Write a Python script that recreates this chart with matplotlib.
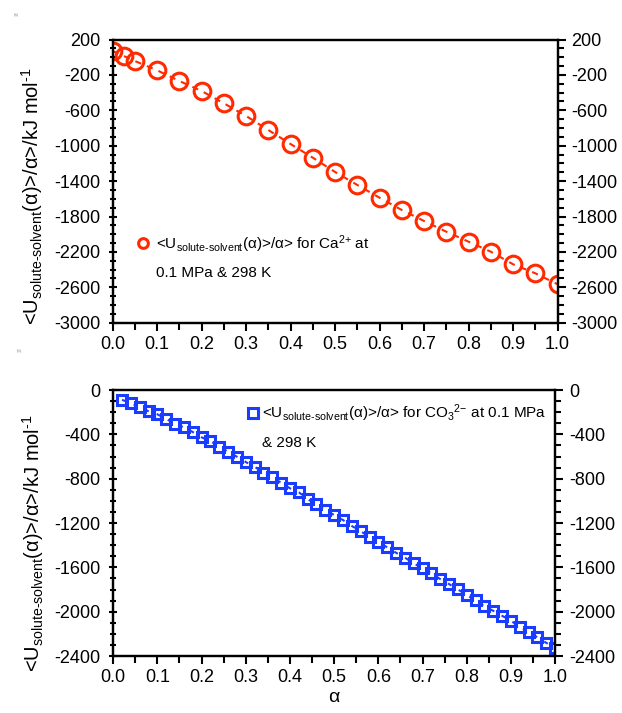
import matplotlib
matplotlib.use("Agg")
import matplotlib.pyplot as plt
from matplotlib.lines import Line2D
from matplotlib.ticker import MultipleLocator, FixedLocator

plt.rcParams["font.family"] = ["Liberation Sans", "DejaVu Sans"]
plt.rcParams["mathtext.default"] = "regular"
plt.rcParams["axes.unicode_minus"] = False

# === DATA ===
ca_alpha = [0.0, 0.025, 0.05, 0.1, 0.15, 0.2, 0.25, 0.3, 0.35, 0.4, 0.45,
            0.5, 0.55, 0.6, 0.65, 0.7, 0.75, 0.8, 0.85, 0.9, 0.95, 1.0]
ca_u = [70, 14, -43, -148, -269, -382, -521, -664, -823, -981, -1136,
        -1297, -1444, -1588, -1727, -1851, -1972, -2085, -2198, -2340, -2442, -2566]

co3_alpha = [0.02, 0.04, 0.06, 0.08, 0.10, 0.12, 0.14, 0.16, 0.18, 0.20,
             0.22, 0.24, 0.26, 0.28, 0.30, 0.32, 0.34, 0.36, 0.38, 0.40,
             0.42, 0.44, 0.46, 0.48, 0.50, 0.52, 0.54, 0.56, 0.58, 0.60,
             0.62, 0.64, 0.66, 0.68, 0.70, 0.72, 0.74, 0.76, 0.78, 0.80,
             0.82, 0.84, 0.86, 0.88, 0.90, 0.92, 0.94, 0.96, 0.98, 1.00]
co3_u = [-88, -120, -153, -192, -219, -262, -304, -337, -379, -427,
         -460, -512, -557, -602, -650, -692, -746, -788, -837, -887,
         -923, -985, -1032, -1083, -1128, -1173, -1227, -1275, -1324, -1369,
         -1420, -1468, -1512, -1564, -1609, -1654, -1706, -1751, -1799, -1850,
         -1898, -1952, -1992, -2037, -2082, -2136, -2181, -2232, -2281, -2326]

top_yticks = [200, -200, -600, -1000, -1400, -1800, -2200, -2600, -3000]
bot_yticks = [0, -400, -800, -1200, -1600, -2000, -2400]

RED = "#ff2a00"
BLUE = "#1a3cff"
YLABEL = r"<U$_{solute‐solvent}$(α)>/α>/kJ mol$^{‐1}$"


def style_axes(ax, ylim, yticks, label_y):
    ax.set_xlim(0, 1.0)
    ax.set_ylim(*ylim)
    ax.xaxis.set_major_locator(MultipleLocator(0.1))
    ax.xaxis.set_minor_locator(MultipleLocator(0.05))
    ax.yaxis.set_major_locator(FixedLocator(yticks))
    ax.yaxis.set_minor_locator(MultipleLocator(100))
    ax.xaxis.set_major_formatter(plt.FuncFormatter(lambda v, p: f"{v:.1f}"))
    for s in ax.spines.values():
        s.set_linewidth(1.6)
    ax.tick_params(axis="x", which="both", direction="out", top=False,
                   labelsize=13, width=1.5)
    ax.tick_params(axis="x", which="major", length=6)
    ax.tick_params(axis="x", which="minor", length=5)
    ax.tick_params(axis="y", which="both", direction="inout", labelsize=13,
                   width=1.5, pad=6)
    ax.tick_params(axis="y", which="major", length=6)
    ax.tick_params(axis="y", which="minor", length=5)
    ax.set_ylabel(YLABEL, fontsize=14.5)
    ax.yaxis.set_label_coords(-0.152, label_y)

    ax2 = ax.twinx()
    ax2.set_ylim(*ylim)
    ax2.yaxis.set_major_locator(FixedLocator(yticks))
    ax2.yaxis.set_minor_locator(MultipleLocator(100))
    ax2.tick_params(axis="y", which="both", direction="out", labelsize=13,
                    width=1.5, pad=4)
    ax2.tick_params(axis="y", which="major", length=6)
    ax2.tick_params(axis="y", which="minor", length=4)
    for s in ax2.spines.values():
        s.set_linewidth(1.6)
    return ax2


fig = plt.figure(figsize=(6.22, 7.13), dpi=100)
ax_top = fig.add_axes([0.181, 0.5474, 0.7155, 0.3972])
ax_bot = fig.add_axes([0.182, 0.0799, 0.7105, 0.3731])

# --- top panel: Ca2+ ---
ax_top.plot(ca_alpha, ca_u, linestyle="--", color=RED, lw=1.5,
            marker="o", ms=12, mfc="none", mec=RED, mew=2.2, dashes=(3, 3))
style_axes(ax_top, (-3000, 200), top_yticks, 0.445)
h1 = Line2D([], [], linestyle="none", marker="o", ms=7, mfc="none",
            mec=RED, mew=2.2)
ax_top.legend([h1], [r"<U$_{solute‐solvent}$(α)>/α> for Ca$^{2{+}}$ at"],
              loc="center left", bbox_to_anchor=(0.055, 0.278), frameon=False,
              borderpad=0, borderaxespad=0, handlelength=0.8,
              handletextpad=0.43, fontsize=11)
ax_top.text(0.097, 0.174, "0.1 MPa & 298 K", transform=ax_top.transAxes,
            ha="left", va="center", fontsize=11)

# --- bottom panel: CO3 2- ---
ax_bot.plot(co3_alpha, co3_u, linestyle="--", color=BLUE, lw=1.5,
            marker="s", ms=7, mfc="none", mec=BLUE, mew=2.2, dashes=(2, 4))
style_axes(ax_bot, (-2400, 0), bot_yticks, 0.425)
h2 = Line2D([], [], linestyle="none", marker="s", ms=7, mfc="none",
            mec=BLUE, mew=2.2)
ax_bot.legend([h2], [r"<U$_{solute‐solvent}$(α)>/α> for CO$_3{}^{2{−}}$ at 0.1 MPa"],
              loc="center left", bbox_to_anchor=(0.302, 0.913), frameon=False,
              borderpad=0, borderaxespad=0, handlelength=0.8,
              handletextpad=0.2, fontsize=11)
ax_bot.text(0.337, 0.80, "& 298 K", transform=ax_bot.transAxes,
            ha="left", va="center", fontsize=11)
ax_bot.set_xlabel("α", fontsize=14, labelpad=2)

# tiny panel tags in the corner
fig.text(0.022, 0.978, "(a)", fontsize=3, color="gray")
fig.text(0.027, 0.506, "(b)", fontsize=3, color="gray")

fig.savefig("out.png", dpi=100)
